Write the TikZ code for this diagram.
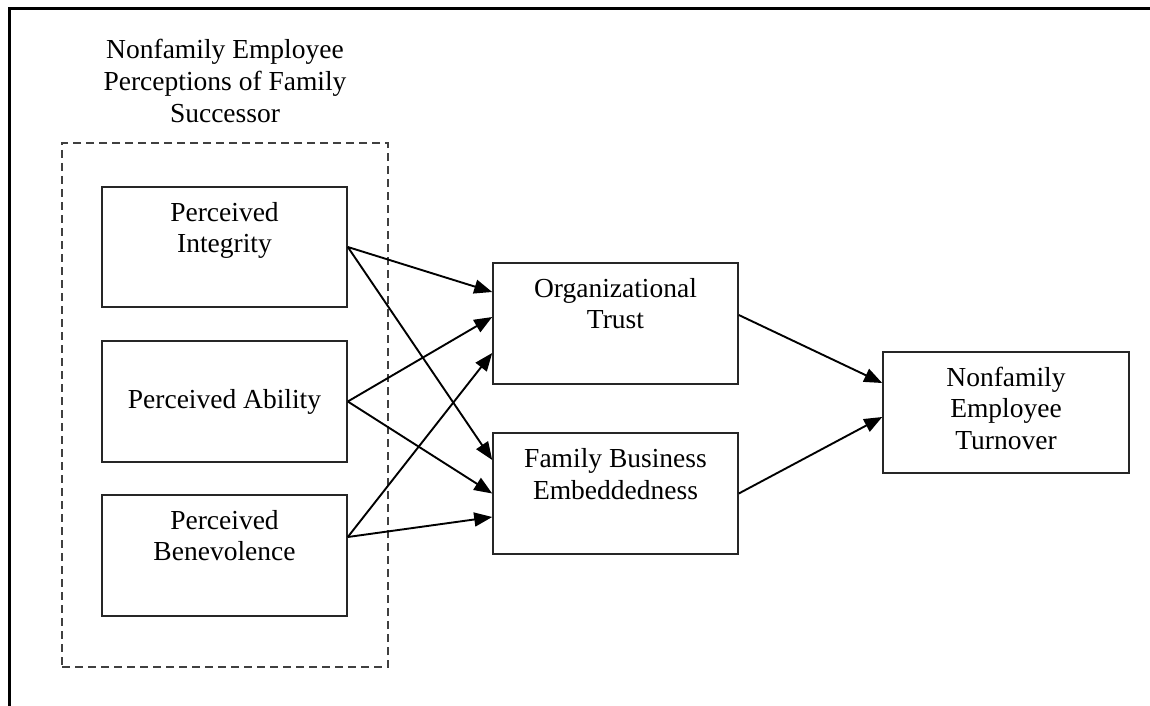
\documentclass[tikz,border=0pt]{standalone}
\usepackage{fontspec}
\setmainfont{Liberation Serif}
\usetikzlibrary{arrows.meta}

\begin{document}
\begin{tikzpicture}[x=1pt, y=-1pt,
  every node/.style={font=\fontsize{27.5}{31.5}\selectfont},
  construct/.style={draw=black!85, line width=1.6pt, minimum width=245pt,
    minimum height=121pt, inner sep=0pt},
  boxtext/.style={anchor=base, align=center, inner sep=0pt},
  path/.style={line width=1.9pt, -{Triangle[length=18pt, width=14pt]}},
  group/.style={draw=black!75, line width=1.5pt, dash pattern=on 8pt off 5pt}]

  % canvas
  \useasboundingbox (0,0) rectangle (1150,706);

  % frame (top and left edges)
  \draw[line width=3pt] (9,706) -- (9,9) -- (1150,9);

  % group of successor perceptions
  \node[group, minimum width=326pt, minimum height=524pt, inner sep=0pt]
    (grp) at (225,405) {};
  \node[boxtext] (grptitle) at (225,122)
    {Nonfamily Employee\\Perceptions of Family\\Successor};

  % antecedents (base anchor sits on the last line)
  \node[construct, minimum height=120pt] (integ) at (224.5,247) {};
  \node[boxtext] (integt) at ([yshift=-66.5pt]integ.north) {Perceived\\Integrity};

  \node[construct] (abil) at (224.5,401.5) {Perceived Ability};

  \node[construct] (benev) at (224.5,555.5) {};
  \node[boxtext] (benevt) at ([yshift=-66.5pt]benev.north) {Perceived\\Benevolence};

  % mediators
  \node[construct] (trust) at (615.5,323.5) {};
  \node[boxtext] (trustt) at ([yshift=-66.5pt]trust.north) {Organizational\\Trust};

  \node[construct] (embed) at (615.5,493.5) {};
  \node[boxtext] (embedt) at ([yshift=-67pt]embed.north) {Family Business\\Embeddedness};

  % outcome
  \node[construct, minimum width=246pt] (turn) at (1006,412.5) {};
  \node[boxtext] (turnt) at ([yshift=-98pt]turn.north) {Nonfamily\\Employee\\Turnover};

  % paths to organizational trust
  \draw[path] (integ.east) -- ([yshift=31.5pt]trust.west);
  \draw[path] (abil.east) -- ([yshift=6.5pt]trust.west);
  \draw[path] ([yshift=18.5pt]benev.east) -- ([yshift=-29.5pt]trust.west);

  % paths to family business embeddedness
  \draw[path] (integ.east) -- ([yshift=33.5pt]embed.west);
  \draw[path] (abil.east) -- (embed.west);
  \draw[path] ([yshift=18.5pt]benev.east) -- ([yshift=-23.5pt]embed.west);

  % paths to turnover
  \draw[path] ([yshift=8.5pt]trust.east) -- ([yshift=29.5pt]turn.west);
  \draw[path] (embed.east) -- ([yshift=-4.5pt]turn.west);
\end{tikzpicture}
\end{document}
